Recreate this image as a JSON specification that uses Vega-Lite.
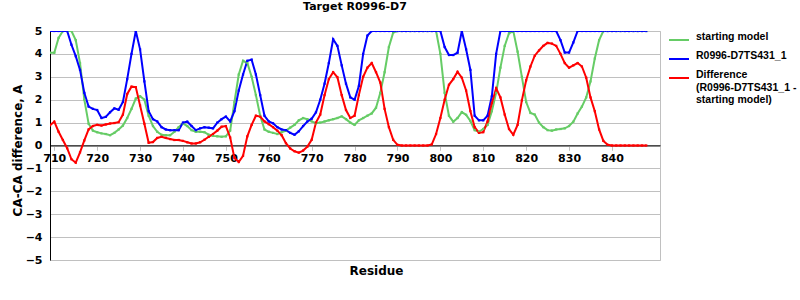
{
"$schema": "https://vega.github.io/schema/vega-lite/v6.json",
"width": 610, "height": 229,
"autosize": {"type": "none"},
"padding": {"left": 50, "top": 31, "right": 140, "bottom": 40},
"background": "white",
"config": {"view": {"stroke": "#c0c0c0", "strokeWidth": 1}, "font": "DejaVu Sans"},
"title": {"text": "Target R0996-D7", "fontSize": 11, "fontWeight": "bold", "font": "DejaVu Sans", "anchor": "middle", "offset": 13, "color": "black"},
"data": {"values": [
{"r":709,"starting model":4.05,"R0996-D7TS431_1":5,"Difference":0.88},
{"r":710,"starting model":4.05,"R0996-D7TS431_1":5,"Difference":1.04},
{"r":711,"starting model":4.7,"R0996-D7TS431_1":5,"Difference":0.6},
{"r":712,"starting model":5,"R0996-D7TS431_1":5,"Difference":0.24},
{"r":713,"starting model":5,"R0996-D7TS431_1":5,"Difference":-0.12},
{"r":714,"starting model":5,"R0996-D7TS431_1":4.4,"Difference":-0.6},
{"r":715,"starting model":4.6,"R0996-D7TS431_1":3.9,"Difference":-0.75},
{"r":716,"starting model":3.6,"R0996-D7TS431_1":3.3,"Difference":-0.3},
{"r":717,"starting model":2.0,"R0996-D7TS431_1":2.3,"Difference":0.22},
{"r":718,"starting model":0.95,"R0996-D7TS431_1":1.7,"Difference":0.7},
{"r":719,"starting model":0.65,"R0996-D7TS431_1":1.6,"Difference":0.85},
{"r":720,"starting model":0.58,"R0996-D7TS431_1":1.55,"Difference":0.9},
{"r":721,"starting model":0.53,"R0996-D7TS431_1":1.2,"Difference":0.87},
{"r":722,"starting model":0.5,"R0996-D7TS431_1":1.25,"Difference":0.92},
{"r":723,"starting model":0.45,"R0996-D7TS431_1":1.45,"Difference":0.96},
{"r":724,"starting model":0.55,"R0996-D7TS431_1":1.62,"Difference":0.98},
{"r":725,"starting model":0.7,"R0996-D7TS431_1":1.56,"Difference":1.02},
{"r":726,"starting model":0.87,"R0996-D7TS431_1":1.9,"Difference":1.35},
{"r":727,"starting model":1.2,"R0996-D7TS431_1":2.9,"Difference":2.25},
{"r":728,"starting model":1.6,"R0996-D7TS431_1":4.0,"Difference":2.57},
{"r":729,"starting model":2.05,"R0996-D7TS431_1":5.0,"Difference":2.55},
{"r":730,"starting model":2.15,"R0996-D7TS431_1":4.2,"Difference":1.75},
{"r":731,"starting model":2.0,"R0996-D7TS431_1":2.8,"Difference":0.95},
{"r":732,"starting model":1.3,"R0996-D7TS431_1":1.5,"Difference":0.12},
{"r":733,"starting model":0.85,"R0996-D7TS431_1":1.15,"Difference":0.15},
{"r":734,"starting model":0.6,"R0996-D7TS431_1":1.05,"Difference":0.33},
{"r":735,"starting model":0.47,"R0996-D7TS431_1":0.8,"Difference":0.38},
{"r":736,"starting model":0.45,"R0996-D7TS431_1":0.7,"Difference":0.33},
{"r":737,"starting model":0.45,"R0996-D7TS431_1":0.67,"Difference":0.28},
{"r":738,"starting model":0.6,"R0996-D7TS431_1":0.67,"Difference":0.24},
{"r":739,"starting model":0.8,"R0996-D7TS431_1":0.67,"Difference":0.24},
{"r":740,"starting model":0.97,"R0996-D7TS431_1":1.0,"Difference":0.2},
{"r":741,"starting model":0.85,"R0996-D7TS431_1":1.04,"Difference":0.14},
{"r":742,"starting model":0.67,"R0996-D7TS431_1":0.85,"Difference":0.09},
{"r":743,"starting model":0.6,"R0996-D7TS431_1":0.67,"Difference":0.09},
{"r":744,"starting model":0.6,"R0996-D7TS431_1":0.75,"Difference":0.14},
{"r":745,"starting model":0.58,"R0996-D7TS431_1":0.8,"Difference":0.25},
{"r":746,"starting model":0.47,"R0996-D7TS431_1":0.78,"Difference":0.38},
{"r":747,"starting model":0.42,"R0996-D7TS431_1":0.75,"Difference":0.5},
{"r":748,"starting model":0.4,"R0996-D7TS431_1":1.0,"Difference":0.65},
{"r":749,"starting model":0.38,"R0996-D7TS431_1":1.15,"Difference":0.82},
{"r":750,"starting model":0.4,"R0996-D7TS431_1":1.26,"Difference":0.85},
{"r":751,"starting model":0.65,"R0996-D7TS431_1":1.05,"Difference":0.35},
{"r":752,"starting model":1.9,"R0996-D7TS431_1":1.5,"Difference":-0.55},
{"r":753,"starting model":3.1,"R0996-D7TS431_1":2.4,"Difference":-0.72},
{"r":754,"starting model":3.7,"R0996-D7TS431_1":3.1,"Difference":-0.45},
{"r":755,"starting model":3.6,"R0996-D7TS431_1":3.7,"Difference":0.4},
{"r":756,"starting model":3.0,"R0996-D7TS431_1":3.75,"Difference":0.9},
{"r":757,"starting model":2.2,"R0996-D7TS431_1":3.1,"Difference":1.3},
{"r":758,"starting model":1.3,"R0996-D7TS431_1":2.2,"Difference":1.26},
{"r":759,"starting model":0.7,"R0996-D7TS431_1":1.3,"Difference":1.05},
{"r":760,"starting model":0.6,"R0996-D7TS431_1":1.05,"Difference":0.93},
{"r":761,"starting model":0.55,"R0996-D7TS431_1":0.97,"Difference":0.8},
{"r":762,"starting model":0.5,"R0996-D7TS431_1":0.8,"Difference":0.65},
{"r":763,"starting model":0.58,"R0996-D7TS431_1":0.7,"Difference":0.45},
{"r":764,"starting model":0.65,"R0996-D7TS431_1":0.67,"Difference":0.1},
{"r":765,"starting model":0.78,"R0996-D7TS431_1":0.55,"Difference":-0.13},
{"r":766,"starting model":0.9,"R0996-D7TS431_1":0.47,"Difference":-0.25},
{"r":767,"starting model":1.1,"R0996-D7TS431_1":0.62,"Difference":-0.31},
{"r":768,"starting model":1.2,"R0996-D7TS431_1":0.85,"Difference":-0.22},
{"r":769,"starting model":1.15,"R0996-D7TS431_1":1.05,"Difference":-0.05},
{"r":770,"starting model":1.05,"R0996-D7TS431_1":1.17,"Difference":0.25},
{"r":771,"starting model":0.97,"R0996-D7TS431_1":1.45,"Difference":1.0},
{"r":772,"starting model":1.0,"R0996-D7TS431_1":2.0,"Difference":1.35},
{"r":773,"starting model":1.05,"R0996-D7TS431_1":2.7,"Difference":2.2},
{"r":774,"starting model":1.1,"R0996-D7TS431_1":3.6,"Difference":2.9},
{"r":775,"starting model":1.15,"R0996-D7TS431_1":4.64,"Difference":3.2},
{"r":776,"starting model":1.2,"R0996-D7TS431_1":4.35,"Difference":2.98},
{"r":777,"starting model":1.27,"R0996-D7TS431_1":3.5,"Difference":2.2},
{"r":778,"starting model":1.15,"R0996-D7TS431_1":2.7,"Difference":1.55},
{"r":779,"starting model":1.0,"R0996-D7TS431_1":2.1,"Difference":1.2},
{"r":780,"starting model":0.9,"R0996-D7TS431_1":2.0,"Difference":1.3},
{"r":781,"starting model":1.1,"R0996-D7TS431_1":2.6,"Difference":2.2},
{"r":782,"starting model":1.2,"R0996-D7TS431_1":4.0,"Difference":3.0},
{"r":783,"starting model":1.3,"R0996-D7TS431_1":4.8,"Difference":3.4},
{"r":784,"starting model":1.4,"R0996-D7TS431_1":5,"Difference":3.6},
{"r":785,"starting model":1.65,"R0996-D7TS431_1":5,"Difference":3.2},
{"r":786,"starting model":2.3,"R0996-D7TS431_1":5,"Difference":2.75},
{"r":787,"starting model":3.2,"R0996-D7TS431_1":5,"Difference":1.6},
{"r":788,"starting model":4.3,"R0996-D7TS431_1":5,"Difference":0.8},
{"r":789,"starting model":4.93,"R0996-D7TS431_1":5,"Difference":0.25},
{"r":790,"starting model":5,"R0996-D7TS431_1":5,"Difference":0.03},
{"r":791,"starting model":5,"R0996-D7TS431_1":5,"Difference":0},
{"r":792,"starting model":5,"R0996-D7TS431_1":5,"Difference":0},
{"r":793,"starting model":5,"R0996-D7TS431_1":5,"Difference":0},
{"r":794,"starting model":5,"R0996-D7TS431_1":5,"Difference":0},
{"r":795,"starting model":5,"R0996-D7TS431_1":5,"Difference":0},
{"r":796,"starting model":5,"R0996-D7TS431_1":5,"Difference":0},
{"r":797,"starting model":5,"R0996-D7TS431_1":5,"Difference":0},
{"r":798,"starting model":5,"R0996-D7TS431_1":5,"Difference":0.05},
{"r":799,"starting model":5,"R0996-D7TS431_1":5,"Difference":0.5},
{"r":800,"starting model":4.0,"R0996-D7TS431_1":5,"Difference":1.2},
{"r":801,"starting model":2.3,"R0996-D7TS431_1":4.3,"Difference":2.0},
{"r":802,"starting model":1.3,"R0996-D7TS431_1":3.95,"Difference":2.65},
{"r":803,"starting model":1.04,"R0996-D7TS431_1":3.95,"Difference":2.9},
{"r":804,"starting model":1.2,"R0996-D7TS431_1":4.05,"Difference":3.22},
{"r":805,"starting model":1.46,"R0996-D7TS431_1":5.0,"Difference":2.96},
{"r":806,"starting model":1.34,"R0996-D7TS431_1":4.2,"Difference":2.4},
{"r":807,"starting model":1.07,"R0996-D7TS431_1":3.3,"Difference":1.5},
{"r":808,"starting model":0.67,"R0996-D7TS431_1":1.3,"Difference":0.8},
{"r":809,"starting model":0.6,"R0996-D7TS431_1":1.1,"Difference":0.55},
{"r":810,"starting model":0.72,"R0996-D7TS431_1":1.1,"Difference":0.58},
{"r":811,"starting model":0.9,"R0996-D7TS431_1":1.3,"Difference":1.05},
{"r":812,"starting model":1.5,"R0996-D7TS431_1":2.15,"Difference":1.85},
{"r":813,"starting model":2.3,"R0996-D7TS431_1":4.0,"Difference":2.5},
{"r":814,"starting model":3.4,"R0996-D7TS431_1":5,"Difference":2.1},
{"r":815,"starting model":4.35,"R0996-D7TS431_1":5,"Difference":1.35},
{"r":816,"starting model":4.9,"R0996-D7TS431_1":5,"Difference":0.72},
{"r":817,"starting model":5.0,"R0996-D7TS431_1":5,"Difference":0.47},
{"r":818,"starting model":4.1,"R0996-D7TS431_1":5,"Difference":0.9},
{"r":819,"starting model":3.0,"R0996-D7TS431_1":5,"Difference":1.97},
{"r":820,"starting model":1.9,"R0996-D7TS431_1":5,"Difference":2.85},
{"r":821,"starting model":1.42,"R0996-D7TS431_1":5,"Difference":3.45},
{"r":822,"starting model":1.35,"R0996-D7TS431_1":5,"Difference":3.92},
{"r":823,"starting model":1.0,"R0996-D7TS431_1":5,"Difference":4.15},
{"r":824,"starting model":0.8,"R0996-D7TS431_1":5,"Difference":4.35},
{"r":825,"starting model":0.67,"R0996-D7TS431_1":5,"Difference":4.48},
{"r":826,"starting model":0.65,"R0996-D7TS431_1":5,"Difference":4.45},
{"r":827,"starting model":0.7,"R0996-D7TS431_1":5,"Difference":4.35},
{"r":828,"starting model":0.72,"R0996-D7TS431_1":4.6,"Difference":4.0},
{"r":829,"starting model":0.75,"R0996-D7TS431_1":4.06,"Difference":3.6},
{"r":830,"starting model":0.85,"R0996-D7TS431_1":4.06,"Difference":3.4},
{"r":831,"starting model":1.04,"R0996-D7TS431_1":4.5,"Difference":3.5},
{"r":832,"starting model":1.4,"R0996-D7TS431_1":5,"Difference":3.6},
{"r":833,"starting model":1.7,"R0996-D7TS431_1":5,"Difference":3.45},
{"r":834,"starting model":2.1,"R0996-D7TS431_1":5,"Difference":2.96},
{"r":835,"starting model":2.8,"R0996-D7TS431_1":5,"Difference":2.1},
{"r":836,"starting model":3.8,"R0996-D7TS431_1":5,"Difference":1.5},
{"r":837,"starting model":4.6,"R0996-D7TS431_1":5,"Difference":0.7},
{"r":838,"starting model":5,"R0996-D7TS431_1":5,"Difference":0.2},
{"r":839,"starting model":5,"R0996-D7TS431_1":5,"Difference":0.03},
{"r":840,"starting model":5,"R0996-D7TS431_1":5,"Difference":0},
{"r":841,"starting model":5,"R0996-D7TS431_1":5,"Difference":0},
{"r":842,"starting model":5,"R0996-D7TS431_1":5,"Difference":0},
{"r":843,"starting model":5,"R0996-D7TS431_1":5,"Difference":0},
{"r":844,"starting model":5,"R0996-D7TS431_1":5,"Difference":0},
{"r":845,"starting model":5,"R0996-D7TS431_1":5,"Difference":0},
{"r":846,"starting model":5,"R0996-D7TS431_1":5,"Difference":0},
{"r":847,"starting model":5,"R0996-D7TS431_1":5,"Difference":0},
{"r":848,"starting model":5,"R0996-D7TS431_1":5,"Difference":0}
]},
"transform": [{"fold": ["starting model", "R0996-D7TS431_1", "Difference"], "as": ["series", "value"]}],
"mark": {"type": "line", "strokeWidth": 2, "clip": true, "point": {"filled": true, "size": 5, "shape": "square"}},
"encoding": {
  "x": {"field": "r", "type": "quantitative",
    "scale": {"domain": [709, 851.2], "nice": false, "zero": false},
    "axis": {"values": [710,720,730,740,750,760,770,780,790,800,810,820,830,840],
      "offset": -114.7, "grid": false, "domainColor": "black", "domainWidth": 1,
      "tickColor": "#c0c0c0", "tickSize": 5, "labelFont": "DejaVu Sans", "labelFontWeight": "bold",
      "labelFontSize": 11, "labelColor": "black", "labelPadding": 2, "labelFlush": false,
      "title": "Residue", "titleFont": "DejaVu Sans", "titleFontSize": 12, "titleFontWeight": "bold",
      "titleColor": "black", "titleX": 326, "titleY": 125, "titleBaseline": "middle", "titleAlign": "center"}},
  "y": {"field": "value", "type": "quantitative",
    "scale": {"domain": [-5, 5], "nice": false},
    "axis": {"values": [-5,-4,-3,-2,-1,0,1,2,3,4,5], "gridColor": "#c0c0c0", "gridWidth": 1,
      "domainColor": "black", "ticks": false, "labelPadding": 8,
      "labelExpr": "datum.value < 0 ? '\u2212' + abs(datum.value) : datum.label",
      "labelFont": "DejaVu Sans", "labelFontWeight": "bold", "labelFontSize": 11, "labelColor": "black",
      "title": "CA-CA difference, A", "titleFont": "DejaVu Sans", "titleFontSize": 12, "titleFontWeight": "bold",
      "titleColor": "black", "titleX": -33, "titleY": 119, "titleAlign": "center", "titleBaseline": "middle"}},
  "color": {"field": "series", "type": "nominal",
    "scale": {"domain": ["starting model", "R0996-D7TS431_1", "Difference"], "range": ["#66cc66", "#0000ff", "#ff0000"]},
    "legend": {"title": null, "orient": "none", "legendX": 618, "legendY": -2,
      "symbolType": "stroke", "symbolStrokeWidth": 2, "symbolSize": 400,
      "labelFont": "Liberation Sans", "labelFontSize": 10.5, "labelFontWeight": "bold", "labelColor": "black",
      "labelBaseline": "alphabetic", "labelOffset": 6, "rowPadding": 4, "labelLimit": 200,
      "labelExpr": "datum.label == 'Difference' ? ['Difference', '(R0996-D7TS431_1 -', '        starting model)'] : datum.label"}}
}
}
